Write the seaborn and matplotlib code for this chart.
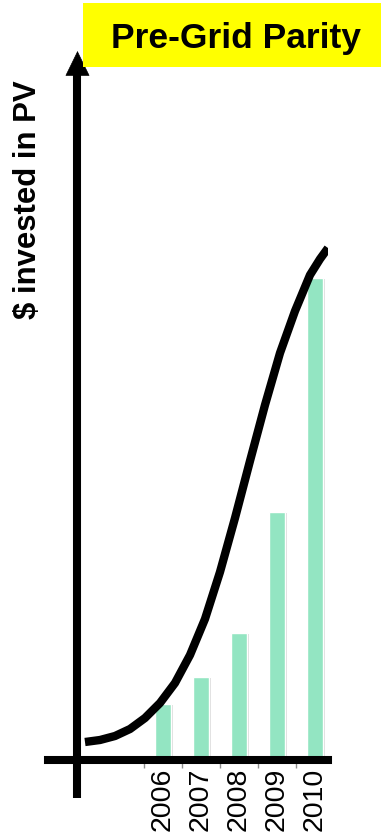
import matplotlib
matplotlib.use("Agg")
import matplotlib.pyplot as plt
import matplotlib.patheffects as pe
from matplotlib.patches import Rectangle
import seaborn as sns

# Annual PV investment (relative units) and the adoption S-curve drawn over it
years = [2006, 2007, 2008, 2009, 2010]
invested = [56, 83, 127, 248, 482]
year_labels = ["2006", "2007", "2008", "2009", "2010"]

curve_year = [2003.947, 2004.342, 2004.737, 2005.132, 2005.526, 2005.921,
              2006.316, 2006.711, 2007.105, 2007.500, 2007.895, 2008.289,
              2008.684, 2009.079, 2009.474, 2009.868, 2010.132, 2010.342]
curve_value = [18, 20, 24, 31, 42, 57, 77, 105, 141, 188, 242, 299, 355, 407,
               449, 485, 501, 512]

title = "Pre-Grid Parity"
y_label = "$ invested in PV"

sns.set_style("white")
plt.rcParams["font.family"] = ["Liberation Sans", "DejaVu Sans"]
plt.rcParams["text.color"] = "black"

W, H = 381, 837
fig = plt.figure(figsize=(W / 100, H / 100), dpi=100)
ax = fig.add_axes([48 / W, (H - 761) / H, 280 / W, 711 / H])

bar_color = "#93E5C2"
sns.barplot(x=years, y=invested, native_scale=True, width=0.42,
            color=bar_color, saturation=1, ax=ax, zorder=1)
for p in ax.patches:
    p.set_path_effects([pe.SimplePatchShadow(offset=(1.5, -0.5),
                                             shadow_rgbFace="#9a9a9a",
                                             alpha=0.35),
                        pe.Normal()])

sns.lineplot(x=curve_year, y=curve_value, sort=False, estimator=None,
             color="black", lw=6, ax=ax, zorder=3)
for ln in ax.lines:
    ln.set_solid_capstyle("butt")
    ln.set_solid_joinstyle("round")

ax.set_xlim(2002.974, 2010.342)
ax.set_ylim(0, 711)

# Axes: thick bottom spine, vertical arrow for the value axis
for side in ("left", "top", "right"):
    ax.spines[side].set_visible(False)
ax.spines["bottom"].set_linewidth(5.8)
ax.spines["bottom"].set_color("black")
ax.spines["bottom"].set_zorder(4)
ax.set_axisbelow(True)

x_axis_pos = 2003.75
ax.plot([x_axis_pos, x_axis_pos], [-38, 690], color="black", lw=5.8,
        solid_capstyle="butt", clip_on=False, zorder=4)
ax.annotate("", xy=(x_axis_pos, 709), xytext=(x_axis_pos, 640),
            arrowprops=dict(arrowstyle="-|>,head_length=17,head_width=8.3",
                            mutation_scale=1, lw=0.5, color="black",
                            shrinkA=0, shrinkB=0),
            annotation_clip=False, zorder=5)

ax.set_xticks(years)
ax.set_xticklabels(year_labels, rotation=90, fontsize=20.5, va="top")
ax.set_xticks([y - 0.5 for y in years], minor=True)
ax.tick_params(axis="x", which="major", length=0, pad=5, labelcolor="black")
ax.tick_params(axis="x", which="minor", length=5.8, width=1, color="#8c8c8c",
               direction="out", bottom=True)
ax.set_yticks([])
ax.set_xlabel("")
ax.set_ylabel("")

fig.text(28 / W, 1 - 200 / H, y_label, rotation=90, ha="center", va="center",
         fontsize=22.4, fontweight="bold", color="black")

fig.patches.append(Rectangle((83 / W, 1 - 68 / H), (W - 83) / W, 64 / H,
                             transform=fig.transFigure, facecolor="#FFFF00",
                             edgecolor="none", zorder=0))
fig.text(236 / W, 1 - 48.3 / H, title, ha="center", va="baseline",
         fontsize=25.5, fontweight="bold", color="black")

fig.savefig("out.png", dpi=100)
